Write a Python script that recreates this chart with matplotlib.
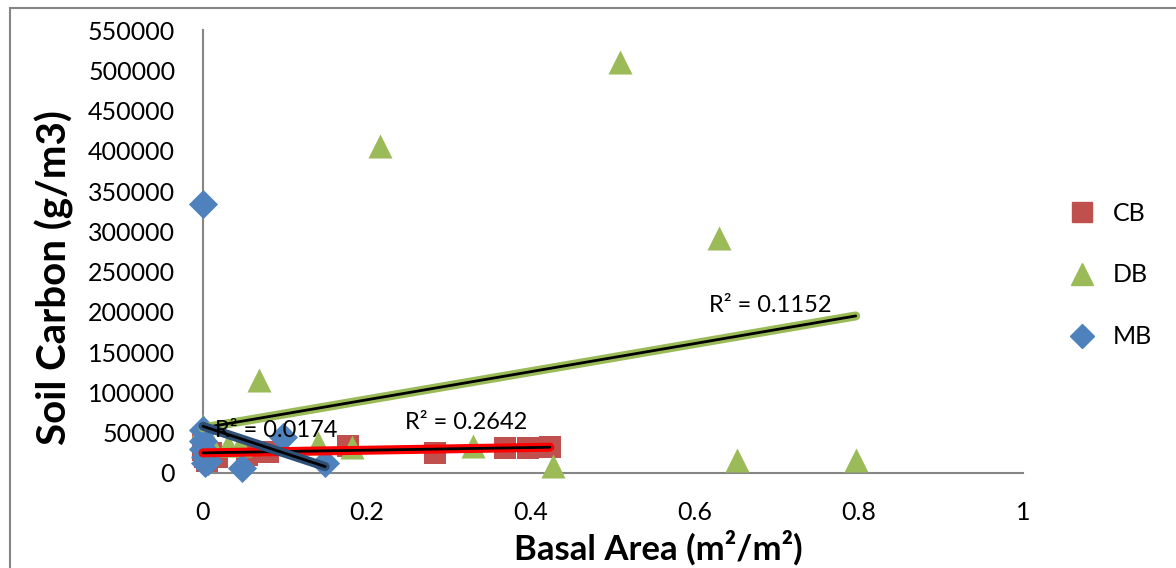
import numpy as np
import matplotlib
matplotlib.use("Agg")
import matplotlib.pyplot as plt
from matplotlib.patches import Rectangle
from matplotlib.lines import Line2D

plt.rcParams['font.family'] = ['Lato', 'DejaVu Sans']

# Data
cb_x = [0, 0, 0.002, 0.005, 0.01, 0.017, 0.054, 0.079, 0.177, 0.283, 0.368, 0.396, 0.423]
cb_y = [35000, 28000, 20000, 15000, 25000, 20000, 22000, 26000, 34000, 25000, 31000, 31000, 32000]

db_x = [0, 0.008, 0.03, 0.045, 0.068, 0.14, 0.182, 0.216, 0.329, 0.427, 0.5085, 0.629, 0.651, 0.796]
db_y = [58000, 40000, 35000, 35000, 115000, 37000, 32000, 406000, 33500, 9000, 510000, 292000, 16000, 16000]

mb_x = [0, 0, 0, 0.002, 0.003, 0.006, 0.048, 0.098, 0.149, 0]
mb_y = [334000, 53000, 30000, 20000, 12000, 15000, 6000, 45000, 13000, 40000]

# linear trendlines (end points)
cb_trend_x = [0, 0.423]
cb_trend_y = [25000, 32000]
db_trend_x = [0, 0.796]
db_trend_y = [56000, 195000]
mb_trend_x = [0, 0.149]
mb_trend_y = [58000, 8000]

r2_labels = ['R² = 0.2642', 'R² = 0.1152', 'R² = 0.0174']
r2_pos = [(0.246, 63000), (0.617, 208000), (0.015, 53000)]

CB_COL = '#C0504D'
DB_COL = '#9BBB59'
MB_COL = '#4F81BD'

fig = plt.figure(figsize=(11.76, 5.68), dpi=100)
ax = fig.add_axes([203/1176, 1 - 473/568, 820/1176, 443/568])

ax.scatter(cb_x, cb_y, marker='s', s=230, color=CB_COL, zorder=3, linewidths=0, clip_on=False)
ax.scatter(db_x, db_y, marker='^', s=300, color=DB_COL, zorder=4, linewidths=0, clip_on=False)
ax.scatter(mb_x, mb_y, marker='D', s=220, color=MB_COL, zorder=5, linewidths=0, clip_on=False)

# trendlines: coloured wide line with thin black core
for tx, ty, col, z in [(cb_trend_x, cb_trend_y, 'red', 6),
                       (db_trend_x, db_trend_y, DB_COL, 7),
                       (mb_trend_x, mb_trend_y, '#2E5078', 8)]:
    ax.plot(tx, ty, color=col, lw=6.5, solid_capstyle='round', zorder=z, clip_on=False)
    ax.plot(tx, ty, color='black', lw=2, solid_capstyle='round', zorder=z + 0.5, clip_on=False)

for lab, (px, py) in zip(r2_labels, r2_pos):
    ax.text(px, py, lab, fontsize=17, va='center', ha='left', zorder=10)

ax.set_xlim(0, 1)
ax.set_ylim(0, 550000)
ax.set_xticks(np.arange(0, 1.01, 0.2))
ax.set_xticklabels(['0', '0.2', '0.4', '0.6', '0.8', '1'])
ax.set_yticks(np.arange(0, 550001, 50000))
ax.set_yticklabels([str(v) for v in range(0, 550001, 50000)])
ax.tick_params(length=0, labelsize=18)
ax.tick_params(axis='y', pad=20)
ax.tick_params(axis='x', pad=20)
for s in ['top', 'right']:
    ax.spines[s].set_visible(False)
for s in ['left', 'bottom']:
    ax.spines[s].set_color('#868686')
    ax.spines[s].set_linewidth(1.5)

ax.set_xlabel('Basal Area (m²/m²)', fontsize=25, fontweight='bold')
ax.set_ylabel('Soil Carbon (g/m3)', fontsize=29, fontweight='bold')
ax.xaxis.set_label_coords(0.555, -0.13)
ax.yaxis.set_label_coords(-0.157, 0.442)

handles = [
    Line2D([], [], marker='s', ls='', color=CB_COL, markersize=14),
    Line2D([], [], marker='^', ls='', color=DB_COL, markersize=16),
    Line2D([], [], marker='D', ls='', color=MB_COL, markersize=12),
]
fig.legend(handles, ['CB', 'DB', 'MB'], loc='center left',
           bbox_to_anchor=(1034/1176, 1 - 275/568), frameon=False,
           fontsize=18, labelspacing=1.55, handletextpad=0.25)

fig.patches.append(Rectangle((10/1176, -0.05), 1.2, 1.05 - 8/568,
                             transform=fig.transFigure, fill=False,
                             edgecolor='#868686', lw=1.5))

fig.savefig('out.png', dpi=100)
